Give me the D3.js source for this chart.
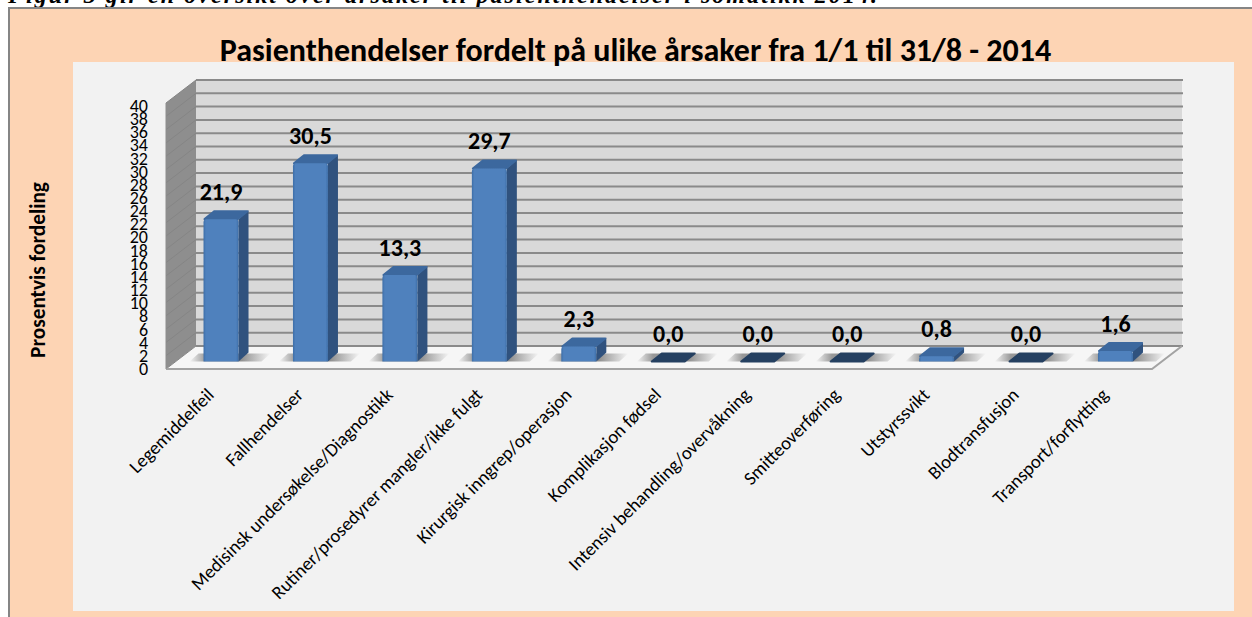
<!DOCTYPE html>
<html lang="no">
<head>
<meta charset="utf-8">
<script src="https://cdn.jsdelivr.net/npm/d3@7/dist/d3.min.js"></script>
<style>
html,body{margin:0;padding:0;background:#fff;overflow:hidden}
svg{display:block}
text{font-family:Carlito,Calibri,Lato,sans-serif;fill:#000}
</style>
</head>
<body>
<svg id="chart" width="1252" height="617"></svg>
<script>
const categories = ["Legemiddelfeil","Fallhendelser","Medisinsk undersøkelse/Diagnostikk","Rutiner/prosedyrer mangler/ikke fulgt","Kirurgisk inngrep/operasjon","Komplikasjon fødsel","Intensiv behandling/overvåkning","Smitteoverføring","Utstyrssvikt","Blodtransfusjon","Transport/forflytting"];
const values = [21.9,30.5,13.3,29.7,2.3,0.0,0.0,0.0,0.8,0.0,1.6];
const yTicks = d3.range(0,41,2);
const chartTitle = "Pasienthendelser fordelt på ulike årsaker fra 1/1 til 31/8 - 2014";
const yTitle = "Prosentvis fordeling";
const caption = "Figur 3 gir en oversikt over årsaker til pasienthendelser i somatikk 2014.";

const svg = d3.select("#chart");
const defs = svg.append("defs");

const frontGrad = defs.append("linearGradient").attr("id","front");
[[0,"#3d6ea8"],[0.07,"#4f81bd"],[0.93,"#4f81bd"],[1,"#3d6ea8"]].forEach(([o,c])=>frontGrad.append("stop").attr("offset",o).attr("stop-color",c));
const shadowGrad = defs.append("linearGradient").attr("id","shadow");
[[0,0],[0.2,0.65],[0.62,0.75],[1,0]].forEach(([o,a])=>shadowGrad.append("stop").attr("offset",o).attr("stop-color","#666").attr("stop-opacity",a));

// Layout
const panel = {x0:73,x1:1234,y0:62,y1:611};
const wall = {x0:196,x1:1182,top:80,bottom:346};
const floorFront = {x0:166,x1:1152,y:369};
const depth = {dx:10,dy:9};
const barW = 35;

// Scales
const yWall = d3.scaleLinear().domain([0,40]).range([wall.bottom,wall.top]);
const yFront = d3.scaleLinear().domain([0,40]).range([361.5,101.5]);
const yAxisLabels = d3.scaleLinear().domain([0,40]).range([368,105]);
const x = d3.scaleBand().domain(categories).range([176.3,1160.2]).paddingInner(0).paddingOuter(0);
const cx = c => x(c)+x.bandwidth()/2;

// Background
svg.append("text").attr("x",8).attr("y",2.5).attr("textLength",869).attr("lengthAdjust","spacing")
  .style("font-family","'Liberation Serif',serif").style("font-weight","bold").style("font-style","italic").style("font-size","24px")
  .text(caption);
svg.append("rect").attr("x",9).attr("y",8).attr("width",1243).attr("height",609).attr("fill","#fdd4b4");
svg.append("path").attr("d","M9,617V8H1252").attr("fill","none").attr("stroke","#858585").attr("stroke-width",2);
svg.append("rect").attr("x",panel.x0).attr("y",panel.y0).attr("width",panel.x1-panel.x0).attr("height",panel.y1-panel.y0).attr("fill","#f2f2f2");

// Title
svg.append("text").attr("x",635.5).attr("y",61).attr("text-anchor","middle").style("font-weight","bold").style("font-size","32px").text(chartTitle);

// Walls
svg.append("rect").attr("x",wall.x0).attr("y",wall.top).attr("width",wall.x1-wall.x0).attr("height",wall.bottom-wall.top).attr("fill","#d9d9d9");
svg.append("polygon").attr("fill","#8e8e8e")
  .attr("points",[[floorFront.x0,yWall(40)+23],[wall.x0,wall.top],[wall.x0,wall.bottom],[floorFront.x0,floorFront.y]].join(" "));
svg.append("polygon").attr("fill","#f6f6f6")
  .attr("points",[[floorFront.x0,floorFront.y],[wall.x0,wall.bottom],[wall.x1,wall.bottom],[floorFront.x1,floorFront.y]].join(" "));

// Gridlines
const grid = svg.append("g");
grid.selectAll("line.w").data(yTicks).join("line").attr("class","w")
  .attr("x1",wall.x0).attr("x2",wall.x1+1).attr("y1",yWall).attr("y2",yWall)
  .attr("stroke","#8a8a8a").attr("stroke-width",2);
grid.selectAll("line.s").data(yTicks).join("line").attr("class","s")
  .attr("x1",wall.x0).attr("x2",floorFront.x0).attr("y1",yWall).attr("y2",d=>yWall(d)+23)
  .attr("stroke","#858585").attr("stroke-width",1);

// Floor front edge
svg.append("polyline").attr("fill","none").attr("stroke","#a3a3a3").attr("stroke-width",2)
  .attr("points",[[floorFront.x0,floorFront.y],[floorFront.x1,floorFront.y],[wall.x1,wall.bottom]].join(" "));
svg.append("line").attr("x1",floorFront.x0).attr("x2",floorFront.x0).attr("y1",yWall(40)+23).attr("y2",floorFront.y).attr("stroke","#8e8e8e");

// Bars
const data = categories.map((c,i)=>({c,v:values[i]}));
const bars = svg.append("g").selectAll("g").data(data).join("g");
const y0 = yFront(0);
bars.append("polygon").attr("fill","url(#shadow)")
  .attr("points",d=>{const l=cx(d.c)-barW/2-14,r=cx(d.c)+barW/2+32;return [[l,y0],[r-9,y0],[r,y0-8],[l+9,y0-8]].join(" ");});
bars.append("path").attr("fill",d=>d.v>0?"#30527e":"#254061")
  .attr("d",d=>{const r=cx(d.c)+barW/2,t=yFront(d.v);return `M${r},${y0}L${r+depth.dx},${y0-depth.dy}L${r+depth.dx},${t-depth.dy}L${r},${t}Z`;});
bars.append("path").attr("fill",d=>d.v>0?"#3c689e":"#254061")
  .attr("stroke",d=>d.v>0?"#3c689e":"#254061").attr("stroke-width",2).attr("stroke-linejoin","round")
  .attr("d",d=>{const l=cx(d.c)-barW/2+1,r=cx(d.c)+barW/2-1,t=yFront(d.v);return `M${l},${t}L${l+depth.dx},${t-depth.dy+1}L${r+depth.dx},${t-depth.dy+1}L${r},${t}Z`;});
bars.filter(d=>d.v>0).append("path").attr("fill","url(#front)")
  .attr("d",d=>{const l=cx(d.c)-barW/2,r=cx(d.c)+barW/2,t=yFront(d.v),q=Math.min(3,y0-t);return `M${l},${y0}V${t+q}Q${l},${t} ${l+q},${t}H${r-q}Q${r},${t} ${r},${t+q}V${y0}Z`;});
bars.append("text").attr("x",d=>cx(d.c)).attr("y",d=>yFront(d.v)-19.5).attr("text-anchor","middle")
  .style("font-weight","bold").style("font-size","24px")
  .text(d=>d3.format(".1f")(d.v).replace(".",","));

// Axes
const axY = svg.append("g").attr("transform","translate(148,0)")
  .call(d3.axisLeft(yAxisLabels).tickValues(yTicks).tickSize(0).tickPadding(0));
axY.select(".domain").remove();
axY.selectAll("text").style("font-size","18px").style("font-family","Carlito,Calibri,Lato,sans-serif").attr("dy",".36em");

const axX = svg.append("g").attr("transform","translate(0,392)")
  .call(d3.axisBottom(x).tickSize(0).tickPadding(0));
axX.select(".domain").remove();
axX.selectAll("text").attr("text-anchor","end").attr("y",0).attr("dy",0)
  .attr("transform","translate(-6,4) rotate(-45)")
  .style("font-size","18.7px").style("font-family","Carlito,Calibri,Lato,sans-serif");

svg.append("text").attr("transform","translate(45,270) rotate(-90)").attr("text-anchor","middle")
  .style("font-weight","bold").style("font-size","21.3px").text(yTitle);
</script>
</body>
</html>
